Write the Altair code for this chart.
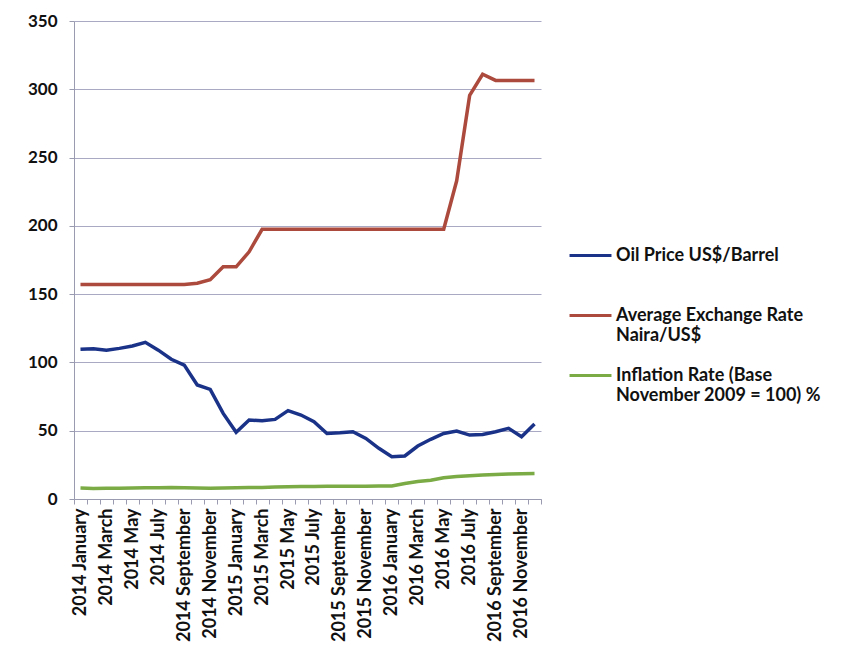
import altair as alt
import pandas as pd

years = ["2014", "2015", "2016"]
month_names = ["January", "February", "March", "April", "May", "June", "July",
               "August", "September", "October", "November", "December"]
months = [f"{y} {m}" for y in years for m in month_names]

oil_price = [109.6, 110.0, 109.0, 110.3, 112.0, 114.7, 109.0, 102.3, 98.0, 83.5, 80.3, 62.7,
             48.8, 57.8, 57.3, 58.3, 64.7, 61.5, 56.6, 48.0, 48.5, 49.3, 44.4, 37.1,
             31.0, 31.5, 38.8, 43.7, 48.0, 49.8, 46.8, 47.3, 49.3, 51.7, 45.6, 54.9]
exchange_rate = [157, 157, 157, 157, 157, 157, 157, 157, 157, 158, 160.5, 170,
                 170, 181, 197.5, 197.5, 197.5, 197.5, 197.5, 197.5, 197.5, 197.5, 197.5, 197.5,
                 197.5, 197.5, 197.5, 197.5, 197.5, 233, 295.5, 311, 306.5, 306.5, 306.5, 306.5]
inflation = [8.0, 7.7, 7.8, 7.9, 8.0, 8.2, 8.3, 8.5, 8.3, 8.1, 7.9, 8.0,
             8.2, 8.4, 8.5, 8.7, 9.0, 9.2, 9.2, 9.3, 9.4, 9.3, 9.4, 9.6,
             9.6, 11.4, 12.8, 13.7, 15.6, 16.5, 17.1, 17.6, 17.9, 18.3, 18.5, 18.6]

series_names = ["Oil Price US$/Barrel",
                "Average Exchange Rate Naira/US$",
                "Inflation Rate (Base November 2009 = 100) %"]
series_colors = ["#1a3388", "#ac4a3d", "#7aab45"]

rows = []
for name, vals in zip(series_names, [oil_price, exchange_rate, inflation]):
    for m, v in zip(months, vals):
        rows.append({"month": m, "series": name, "value": v})
df = pd.DataFrame(rows)

font = "Lato"

label_expr = ("test(/January|March|May|July|September|November/, datum.label) "
              "? datum.label : ''")
legend_label_expr = (
    "datum.label == 'Average Exchange Rate Naira/US$' ? ['Average Exchange Rate', 'Naira/US$'] : "
    "datum.label == 'Inflation Rate (Base November 2009 = 100) %' ? "
    "['Inflation Rate (Base', 'November 2009 = 100) %'] : [datum.label, '']"
)

chart = alt.Chart(df).mark_line(strokeWidth=3.5).encode(
    x=alt.X("month:N", sort=months, title=None,
            scale=alt.Scale(type="band", paddingInner=0, paddingOuter=0),
            axis=alt.Axis(labelAngle=-90, labelAlign="right", labelBaseline="middle",
                          labelExpr=label_expr, labelOverlap=False,
                          labelFont=font, labelFontSize=18, labelFontWeight="bold",
                          labelColor="#111111", labelPadding=4,
                          tickBand="extent", tickSize=5, tickColor="#9a9ab0",
                          domainColor="#9a9ab0", grid=False)),
    y=alt.Y("value:Q", title=None,
            scale=alt.Scale(domain=[0, 350], nice=False),
            axis=alt.Axis(values=[0, 50, 100, 150, 200, 250, 300, 350],
                          labelFont=font, labelFontSize=17, labelFontWeight="bold",
                          labelColor="#111111", labelPadding=12,
                          tickSize=5, tickColor="#9a9ab0",
                          domainColor="#9a9ab0",
                          grid=True, gridColor="#a9a9c4", gridWidth=1)),
    color=alt.Color("series:N", sort=series_names,
                    scale=alt.Scale(domain=series_names, range=series_colors),
                    legend=alt.Legend(title=None, orient="none", legendX=494, legendY=212,
                                      symbolType="stroke", symbolSize=1760, symbolStrokeWidth=3,
                                      labelFont=font, labelFontSize=18, labelFontWeight="bold",
                                      labelColor="#111111", labelLimit=400,
                                      labelExpr=legend_label_expr, labelOffset=3,
                                      rowPadding=8)),
).properties(
    width=467, height=478,
    autosize=alt.AutoSizeParams(type="none"),
    padding={"left": 74, "top": 21, "right": 301, "bottom": 153},
).configure_view(stroke=None).configure_axis(domainWidth=1)

chart.save("out.html", embed_options={"renderer": "svg", "actions": False})
